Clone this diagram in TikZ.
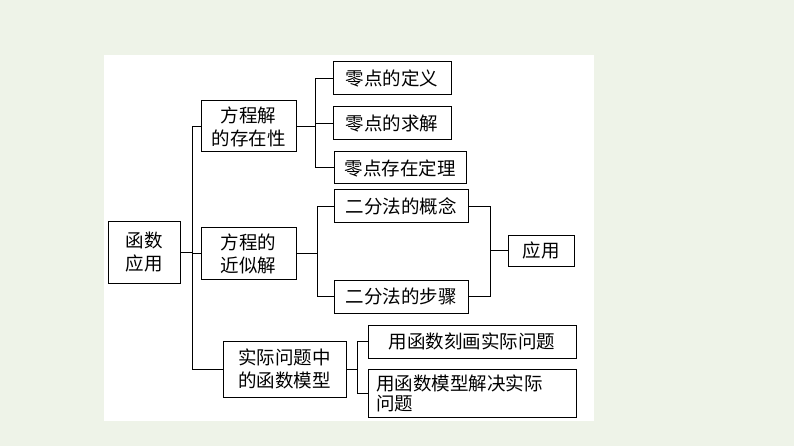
\documentclass[tikz,border=0pt]{standalone}
\usepackage{fontspec}
\setmainfont{Noto Sans CJK SC}
\definecolor{bgc}{HTML}{EEF3E8}
\begin{document}
\begin{tikzpicture}[x=1pt,y=-1pt,
  bx/.style={draw=black,line width=1pt,fill=white,font=\fontsize{18.5}{23}\selectfont,align=center,inner sep=0pt},
  ln/.style={draw=black,line width=1pt}]
\fill[bgc] (0,0) rectangle (794,446);
\fill[white] (104,55) rectangle (594,421);
\useasboundingbox (0,0) rectangle (794,446);
\node[bx,minimum width=72,minimum height=61] (root) at (144,252.5) {函数\\应用};
\node[bx,minimum width=95,minimum height=51] (a) at (248.5,126.5) {方程解\\的存在性};
\node[bx,minimum width=95,minimum height=51] (b) at (248.5,253.5) {方程的\\近似解};
\node[bx,minimum width=123,minimum height=56] (c) at (284.5,369) {实际问题中\\的函数模型};
\node[bx,minimum width=118,minimum height=33] (a1) at (392,78.5) {零点的定义};
\node[bx,minimum width=118,minimum height=33] (a2) at (392,123.5) {零点的求解};
\node[bx,minimum width=132,minimum height=32] (a3) at (400,168) {零点存在定理};
\node[bx,minimum width=134,minimum height=33] (b1) at (401,206.5) {二分法的概念};
\node[bx,minimum width=134,minimum height=33] (b2) at (401,296.5) {二分法的步骤};
\node[bx,minimum width=66,minimum height=31] (d) at (541,250.5) {应用};
\node[bx,minimum width=208,minimum height=33] (c1) at (472,341.5) {用函数刻画实际问题};
\node[bx,minimum width=208,minimum height=48,align=left,text width=192,font=\fontsize{18.5}{20}\selectfont] (c2) at (472,393) {用函数模型解决实际\\问题};
\coordinate (t1) at (192,126.5);
\coordinate (t2) at (192,369);
\draw[ln] (root.east) -- (root.east -| t1);
\draw[ln] (a.west) -- (t1) -- (t2) -- (c.west);
\draw[ln] (b.west) -- (b.west -| t1);
\coordinate (g1) at (315,0);
\draw[ln] (a.east) -- (a.east -| g1);
\draw[ln] (a1.west) -- (a1.west -| g1) -- (a3.west -| g1) -- (a3.west);
\draw[ln] (a2.west) -- (a2.west -| g1);
\coordinate (g2) at (317,0);
\draw[ln] (b.east) -- (b.east -| g2);
\draw[ln] (b1.west) -- (b1.west -| g2) -- (b2.west -| g2) -- (b2.west);
\coordinate (g3) at (490,0);
\draw[ln] (b1.east) -- (b1.east -| g3) -- (b2.east -| g3) -- (b2.east);
\draw[ln] (d.west) -- (d.west -| g3);
\coordinate (g4) at (357,0);
\draw[ln] (c.east) -- (c.east -| g4);
\draw[ln] (c1.west) -- (c1.west -| g4) -- (c2.west -| g4) -- (c2.west);
\end{tikzpicture}
\end{document}
